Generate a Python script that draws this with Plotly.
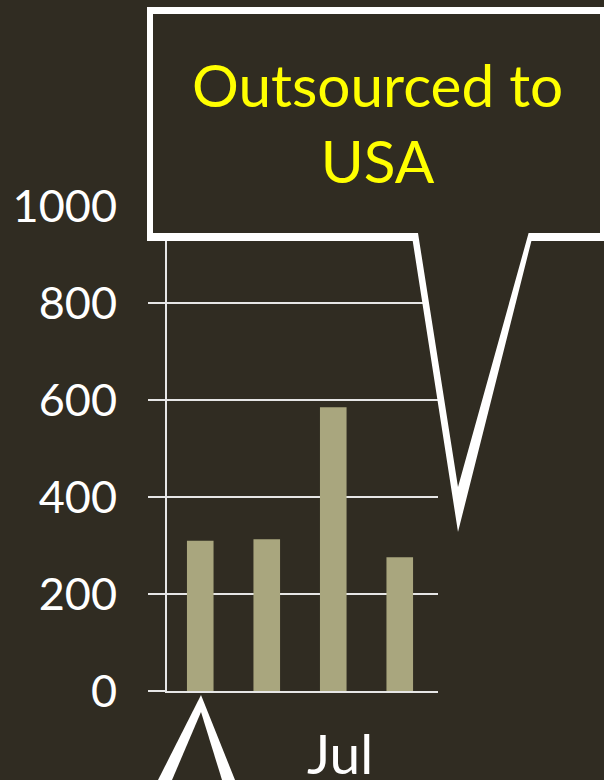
import plotly.graph_objects as go

# Weekly volumes for July
weeks = ["W1", "W2", "W3", "W4"]
volumes = [310, 313, 585, 276]
y_ticks = [0, 200, 400, 600, 800, 1000]
month_label = "Jul"
callout_text = "Outsourced to<br>USA"

BG = "#302c22"
BAR = "#a9a67e"
LINE = "#e6e6e6"
FONT = "Lato, 'Open Sans', sans-serif"

W, H = 604, 780
L, R, T, B = 167, 438, 206, 691  # plot-area edges in pixels


def px(x):
    return (x - L) / (R - L)


def py(y):
    return (B - y) / (B - T)


def poly(points):
    return "M " + " L ".join(f"{px(x)},{py(y)}" for x, y in points) + " Z"


fig = go.Figure(
    go.Bar(
        x=weeks,
        y=volumes,
        width=0.4,
        marker=dict(color=BAR, line=dict(width=0)),
    )
)

fig.update_layout(
    width=W,
    height=H,
    margin=dict(l=L, r=W - R, t=T, b=H - B, pad=0, autoexpand=False),
    paper_bgcolor=BG,
    plot_bgcolor=BG,
    showlegend=False,
    bargap=0.6,
)

fig.update_xaxes(
    automargin=False,
    range=[-0.5, 3.575],
    showticklabels=False,
    showgrid=False,
    showline=True,
    linecolor=LINE,
    linewidth=2,
    ticks="",
    zeroline=False,
)

fig.update_yaxes(
    automargin=False,
    range=[0, 1000],
    tickvals=y_ticks,
    ticktext=[str(v) for v in y_ticks],
    showgrid=True,
    gridcolor=LINE,
    gridwidth=2,
    showline=True,
    linecolor=LINE,
    linewidth=2,
    ticks="outside",
    ticklen=17,
    tickwidth=2,
    tickcolor=LINE,
    ticklabelstandoff=22,
    tickfont=dict(family=FONT, size=45, color="white"),
    zeroline=False,
)

# Speech-bubble callout: white outer outline with a dark inner panel
bubble_outer = [(412.7, 241), (147, 241), (147, 7), (610, 7), (610, 241),
                (531.4, 241), (458, 532)]
bubble_inner = [(418, 233), (153, 233), (153, 14), (600, 14), (600, 233),
                (528.6, 233), (458, 487)]
# Tail of a second bubble rising from below the axis
tail_outer = [(147.9, 800), (201, 695), (243, 800)]
tail_inner = [(163.5, 800), (201, 712), (228.2, 800)]

shape_style = dict(type="path", xref="paper", yref="paper",
                   line=dict(width=0), layer="above")

fig.update_layout(
    shapes=[
        dict(path=poly(bubble_outer), fillcolor="white", **shape_style),
        dict(path=poly(bubble_inner), fillcolor=BG, **shape_style),
        dict(path=poly(tail_outer), fillcolor="white", **shape_style),
        dict(path=poly(tail_inner), fillcolor=BG, **shape_style),
    ],
    annotations=[
        dict(text=callout_text, xref="paper", yref="paper",
             x=px(377), y=py(122), xanchor="center", yanchor="middle",
             showarrow=False, align="center",
             font=dict(family=FONT, size=58.5, color="#ffff00")),
        dict(text=month_label, xref="paper", yref="paper",
             x=px(340), y=py(753), xanchor="center", yanchor="middle",
             showarrow=False,
             font=dict(family=FONT, size=55, color="white")),
    ],
)

fig.write_html("out.html")
